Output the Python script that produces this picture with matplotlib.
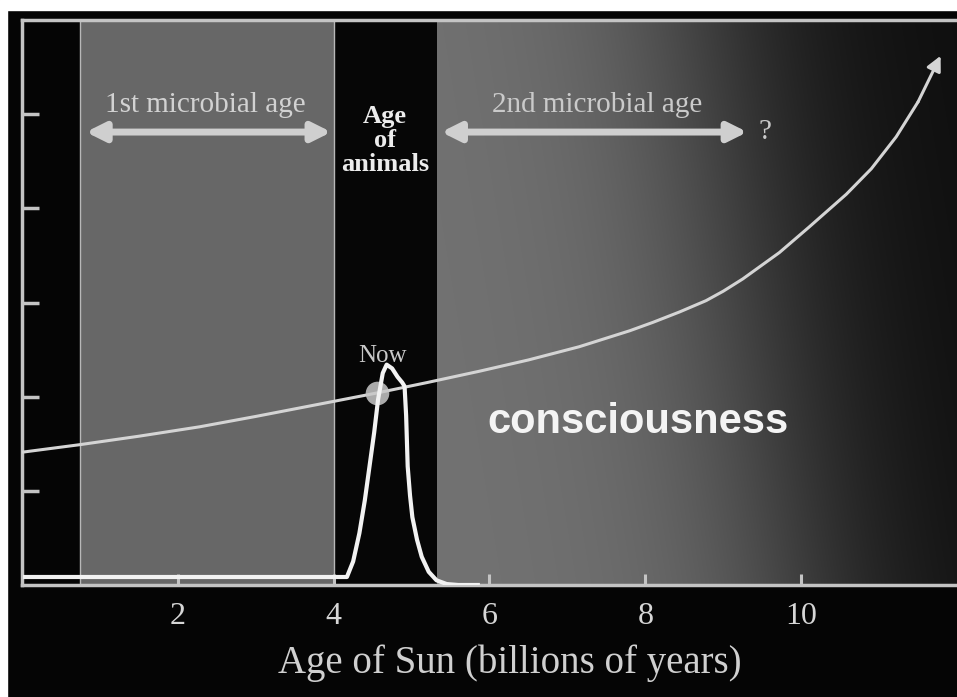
import numpy as np
import matplotlib
matplotlib.use("Agg")
import matplotlib.pyplot as plt
from matplotlib.patches import Rectangle

# ---------------- data ----------------
x_ticks = [2, 4, 6, 8, 10]
y_ticks = [1, 2, 3, 4, 5]
xlim = (0, 12)
ylim = (0, 6)

# era boundaries (billions of years)
black_left = (0.0, 0.74)
first_microbial = (0.74, 4.0)
age_animals = (4.0, 5.32)
second_microbial = (5.32, 12.0)

# rising "consciousness" curve
curve_x = [0.0, 0.74, 1.5, 2.28, 3.0, 4.0, 4.56, 5.2, 5.87, 6.5, 7.15, 7.8, 8.1, 8.44, 8.78,
           9.0, 9.25, 9.72, 10.1, 10.58, 10.9, 11.22, 11.5, 11.79]
curve_y = [1.41, 1.49, 1.58, 1.68, 1.79, 1.95, 2.04, 2.15, 2.27, 2.39, 2.53, 2.70, 2.79, 2.90,
           3.02, 3.12, 3.25, 3.53, 3.80, 4.15, 4.42, 4.76, 5.13, 5.62]

# animal-life pulse
pulse_x = [0.04, 4.17, 4.25, 4.33, 4.40, 4.46, 4.52, 4.57, 4.63, 4.68, 4.75, 4.82, 4.88, 4.91,
           4.93, 4.95, 4.98, 5.01, 5.07, 5.13, 5.22, 5.32, 5.45, 5.6, 5.85]
pulse_y = [0.085, 0.085, 0.25, 0.55, 0.90, 1.26, 1.62, 1.97, 2.25, 2.34, 2.30, 2.21, 2.15, 2.11,
           1.80, 1.26, 0.95, 0.72, 0.48, 0.30, 0.14, 0.05, 0.01, 0.0, 0.0]

now_point = (4.56, 2.04)

label_first = "1st microbial age"
label_animals = "Age\nof\nanimals"
label_second = "2nd microbial age"
label_now = "Now"
label_consc = "consciousness"
xlabel = "Age of Sun (billions of years)"

# ---------------- figure ----------------
fig = plt.figure(figsize=(9.57, 6.97), dpi=100)
fig.patch.set_facecolor("#050505")
ax = fig.add_axes([22 / 957, 112 / 697, 935 / 957, 565 / 697])
ax.set_facecolor("#050505")
ax.set_xlim(*xlim)
ax.set_ylim(*ylim)

serif = ["Liberation Serif", "DejaVu Serif"]
spine_c = "#c4c4c4"

# backgrounds
ax.axvspan(*first_microbial, color="#676767", zorder=0, lw=0)
ax.axvspan(*age_animals, color="#060606", zorder=0, lw=0)
gx = np.linspace(0, 1, 300)
gy = np.linspace(0, 1, 200)          # 0 = top, 1 = bottom (origin upper)
GX, GY = np.meshgrid(gx, gy)
t = GX + 0.18 * (0.5 - GY)
s = 1.0 / (1.0 + np.exp((t - 0.60) / 0.14))
V = 0.05 + 0.40 * s
img = np.dstack([V, V, V])
ax.imshow(img, extent=[second_microbial[0], second_microbial[1], 0, 6], origin="upper",
          aspect="auto", zorder=0, interpolation="bilinear")
for xb in (first_microbial[0], first_microbial[1]):
    ax.axvline(xb, color="#b8b8b8", lw=1.0, zorder=1)

# curves
ax.plot(curve_x[:-1], curve_y[:-1], color="#d4d4d4", lw=2.2, zorder=3, solid_capstyle="round")
ax.annotate("", xy=(curve_x[-1], curve_y[-1]), xytext=(curve_x[-2], curve_y[-2]),
            arrowprops=dict(arrowstyle="-|>", color="#d4d4d4", lw=2.2, mutation_scale=22,
                            shrinkA=0, shrinkB=0), zorder=3)
ax.plot(pulse_x, pulse_y, color="#f2f2f2", lw=3.0, zorder=4)
ax.plot([now_point[0]], [now_point[1]], "o", ms=17, color="#c8c8c8", alpha=0.85, zorder=3.5,
        mec="none")

# arrows
arrow_c = "#cfcfcf"
ax.annotate("", xy=(0.82, 4.81), xytext=(3.97, 4.81),
            arrowprops=dict(arrowstyle="<|-|>", color=arrow_c, lw=5, mutation_scale=28,
                            shrinkA=0, shrinkB=0))
ax.annotate("", xy=(5.38, 4.81), xytext=(9.31, 4.81),
            arrowprops=dict(arrowstyle="<|-|>", color=arrow_c, lw=5, mutation_scale=28,
                            shrinkA=0, shrinkB=0))

# texts
ax.text(2.35, 5.10, label_first, color="#d2d2d2", fontsize=21, family=serif,
        ha="center", va="center")
ax.text(7.38, 5.10, label_second, color="#cacaca", fontsize=21, family=serif,
        ha="center", va="center")
ax.text(9.53, 4.81, "?", color="#cacaca", fontsize=21, family=serif, ha="center", va="center")
ax.text(4.66, 4.72, label_animals, color="#ececec", fontsize=19, family=serif,
        fontweight="bold", ha="center", va="center", linespacing=1.08)
ax.text(4.62, 2.43, label_now, color="#c8c8c8", fontsize=18, family=serif,
        ha="center", va="center")
ax.text(7.9, 1.73, label_consc, color="#f4f4f4", fontsize=30,
        family=["Liberation Sans", "DejaVu Sans"], fontweight="bold", ha="center", va="center")

# axes styling
for s_ in ("left", "bottom", "top"):
    ax.spines[s_].set_color(spine_c)
    ax.spines[s_].set_linewidth(2.5)
ax.spines["right"].set_visible(False)
ax.set_xticks(x_ticks)
ax.set_xticklabels([str(v) for v in x_ticks])
ax.set_yticks(y_ticks)
ax.set_yticklabels([])
ax.tick_params(axis="x", direction="in", length=8, width=2.2, color=spine_c,
               labelcolor="#d6d6d6", labelsize=23, pad=12)
ax.tick_params(axis="y", direction="in", length=12, width=2.5, color=spine_c)
for lab in ax.get_xticklabels():
    lab.set_family(serif)
ax.set_xlabel(xlabel, fontsize=28, color="#d0d0d0", family=serif)
ax.xaxis.set_label_coords((510 - 22) / 935, (585 - 644) / 565)
ax.xaxis.label.set_va("top")

# scan borders
fig.patches.append(Rectangle((0, 1 - 10 / 697), 1, 10 / 697, transform=fig.transFigure,
                             color="white", zorder=10))
fig.patches.append(Rectangle((0, 0), 7 / 957, 1, transform=fig.transFigure,
                             color="white", zorder=10))

fig.savefig("out.png", dpi=100, facecolor=fig.get_facecolor())
